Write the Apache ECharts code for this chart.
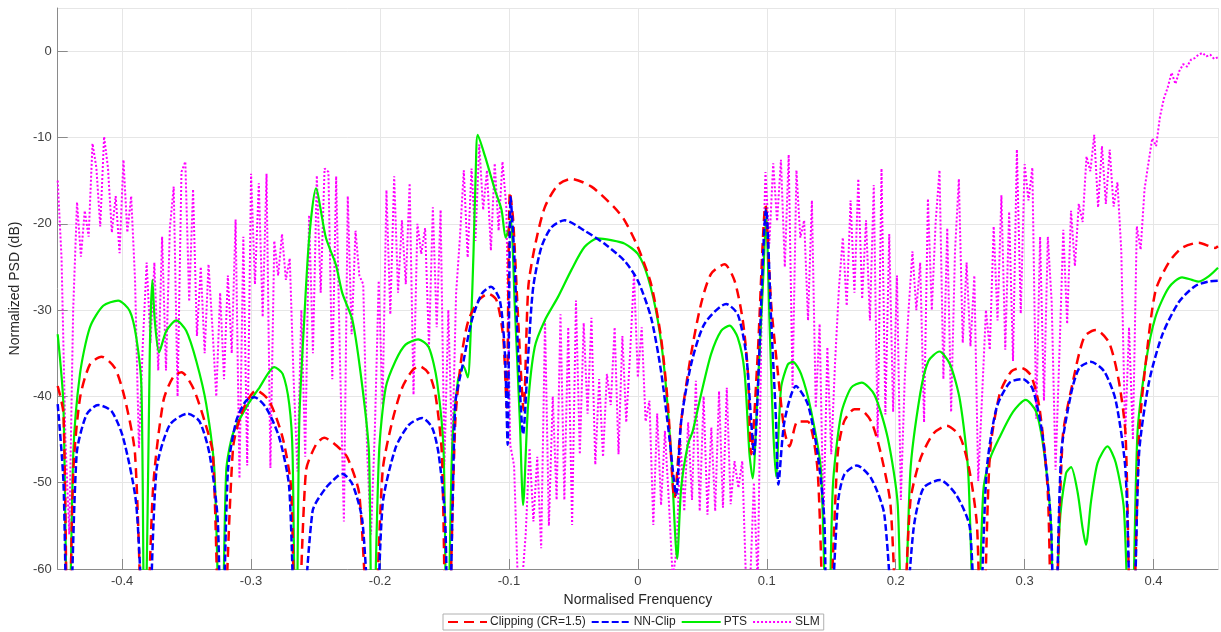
<!DOCTYPE html>
<html>
<head>
<meta charset="utf-8">
<script src="https://cdn.jsdelivr.net/npm/echarts@6/dist/echarts.min.js"></script>
<style>html,body{margin:0;padding:0;background:#fff;}#chart{width:1221px;height:632px;}</style>
</head>
<body>
<div id="chart"></div>
<script>
// ---- Data ----
const xTicks = [-0.4, -0.3, -0.2, -0.1, 0, 0.1, 0.2, 0.3, 0.4];
const yTicks = [-60, -50, -40, -30, -20, -10, 0];

const clipFreq = [-0.45,-0.4455,-0.4418,-0.4379,-0.4327,-0.425,-0.416,-0.4057,-0.398,-0.39,-0.3825,-0.376,-0.368,-0.3606,-0.354,-0.345,-0.336,-0.3296,-0.3232,-0.314,-0.3067,-0.296,-0.286,-0.2755,-0.269,-0.265,-0.2575,-0.2497,-0.2433,-0.233,-0.2252,-0.216,-0.2064,-0.198,-0.1905,-0.1828,-0.175,-0.1694,-0.162,-0.157,-0.152,-0.148,-0.1416,-0.1365,-0.1314,-0.1236,-0.116,-0.1095,-0.1044,-0.1018,-0.0992,-0.0967,-0.0928,-0.0886,-0.085,-0.08,-0.0722,-0.062,-0.0517,-0.036,-0.0183,-0.0103,0,0.0103,0.018,0.0233,0.0284,0.0336,0.0413,0.049,0.0568,0.0672,0.075,0.0814,0.0853,0.0879,0.093,0.099,0.1034,0.1085,0.1137,0.1176,0.124,0.1318,0.1395,0.146,0.155,0.16,0.168,0.172,0.181,0.1886,0.196,0.2035,0.2113,0.219,0.2293,0.2396,0.25,0.2576,0.2632,0.2666,0.273,0.2807,0.2897,0.2974,0.305,0.3116,0.318,0.322,0.3296,0.3373,0.3463,0.3553,0.3656,0.3733,0.3784,0.383,0.3887,0.3938,0.4015,0.4118,0.422,0.435,0.4478,0.45];
const clipPsd = [-38.8,-42,-75,-48.7,-40.2,-36.3,-35.4,-36.7,-40.2,-46.7,-75,-50.6,-40.5,-37.8,-37.2,-39,-42.9,-46.7,-75,-46,-41.7,-39.3,-40.5,-44.8,-50.6,-75,-48.7,-45.6,-44.8,-45.8,-47.1,-51.4,-75,-48.7,-42.9,-39,-37,-36.5,-37.4,-39.8,-46.7,-75,-42.9,-35.1,-31.2,-28.9,-28.1,-28.9,-33.2,-41.3,-16.3,-19.6,-31.2,-41.6,-27.4,-22.7,-18.1,-15.5,-14.8,-15.7,-18.1,-19.6,-22.7,-27,-33.2,-40.9,-51.8,-42.9,-35.1,-29.3,-25.8,-24.7,-26.6,-31.2,-37.1,-46.7,-35.1,-17.9,-29.3,-37.1,-44,-45.8,-42.9,-42.9,-48.7,-75,-46.7,-42.9,-41.5,-41.5,-42.9,-46.7,-52.6,-75,-52.3,-47.3,-44.3,-43.4,-44.7,-48.9,-55.3,-75,-46.8,-39.7,-37.1,-36.7,-37.6,-41.4,-51.1,-75,-44.7,-38.4,-33.1,-32.3,-33.8,-38.4,-44.7,-75,-44.7,-36.3,-27.8,-24.5,-22.8,-22.2,-22.8,-22.6];

const nnFreq = [-0.45,-0.4455,-0.4418,-0.4353,-0.4276,-0.4186,-0.4083,-0.3992,-0.389,-0.381,-0.3735,-0.3631,-0.349,-0.34,-0.3322,-0.3258,-0.323,-0.318,-0.3116,-0.3039,-0.2974,-0.2884,-0.2781,-0.2704,-0.264,-0.2523,-0.242,-0.2317,-0.229,-0.2213,-0.2136,-0.2046,-0.198,-0.188,-0.1776,-0.1674,-0.1596,-0.1545,-0.1494,-0.147,-0.1416,-0.1352,-0.1288,-0.121,-0.1139,-0.107,-0.1031,-0.101,-0.0987,-0.0959,-0.0928,-0.089,-0.085,-0.0812,-0.0748,-0.067,-0.0568,-0.0414,-0.026,-0.0103,0,0.0103,0.018,0.0245,0.0297,0.0336,0.0413,0.0517,0.0685,0.0775,0.084,0.0879,0.09,0.0995,0.1034,0.1072,0.109,0.1137,0.1227,0.1318,0.1395,0.1447,0.147,0.155,0.16,0.1698,0.181,0.1912,0.2025,0.2139,0.2216,0.2344,0.2473,0.2576,0.2632,0.2704,0.2781,0.2884,0.2987,0.3064,0.3141,0.3206,0.323,0.3283,0.336,0.3424,0.3514,0.3617,0.3707,0.3784,0.3835,0.3887,0.3964,0.4067,0.4195,0.4324,0.4427,0.45];
const nnPsd = [-40.9,-50,-75,-46.7,-42.1,-41,-41.7,-44.8,-52.6,-75,-48.7,-43.3,-42,-42.9,-46.7,-54.5,-75,-48.7,-42.9,-40.5,-40.1,-41.3,-44.8,-50.6,-75,-53.3,-50.6,-49.1,-49,-50.2,-54.5,-75,-52.6,-46,-43.3,-42.5,-43.6,-46.7,-54.5,-75,-40.9,-35.9,-31.2,-28.1,-27.3,-28.9,-35.1,-45.6,-16.9,-23.5,-35.1,-44.4,-35.1,-27.4,-22.7,-20.4,-19.6,-20.8,-22.3,-24.3,-26.6,-30.9,-37.1,-44.8,-51.4,-42.9,-36.3,-31.6,-29.3,-30.5,-35.1,-42.9,-46.7,-18.3,-31.2,-42.9,-50.2,-42.9,-38.8,-40.9,-46.7,-54.5,-75,-52.6,-49.1,-48,-49.5,-53.7,-75,-55.3,-50.6,-49.7,-51.5,-55.3,-75,-48.9,-41.4,-38.4,-38,-39.2,-44.7,-55.3,-75,-46.8,-39.7,-36.7,-36,-37.1,-40.5,-48.9,-75,-46.8,-38.4,-32.9,-29.1,-27.2,-26.7,-26.6];

const ptsFreq = [-0.45,-0.4456,-0.4418,-0.4379,-0.4327,-0.425,-0.4147,-0.4031,-0.3941,-0.389,-0.385,-0.3825,-0.3786,-0.3766,-0.3747,-0.3714,-0.3657,-0.358,-0.3503,-0.3425,-0.3348,-0.3284,-0.3232,-0.3193,-0.3142,-0.3039,-0.2936,-0.282,-0.2755,-0.2704,-0.2678,-0.2652,-0.2626,-0.2588,-0.2549,-0.2497,-0.242,-0.2343,-0.2291,-0.2213,-0.2136,-0.2085,-0.206,-0.2008,-0.1956,-0.188,-0.1802,-0.1704,-0.1622,-0.1558,-0.1506,-0.148,-0.1442,-0.1396,-0.1352,-0.1319,-0.1293,-0.1275,-0.1257,-0.1242,-0.1185,-0.1108,-0.1057,-0.1026,-0.1005,-0.0985,-0.0954,-0.0915,-0.089,-0.0851,-0.08,-0.0722,-0.062,-0.0517,-0.0414,-0.0311,-0.0208,-0.0103,0,0.0078,0.0155,0.0207,0.0258,0.0305,0.0336,0.0388,0.0426,0.049,0.0568,0.0646,0.0711,0.0775,0.0827,0.0866,0.0891,0.093,0.0969,0.0995,0.1021,0.1047,0.1072,0.1111,0.1163,0.1202,0.1266,0.1344,0.1421,0.1473,0.1512,0.1576,0.1654,0.1736,0.1835,0.1938,0.2016,0.2055,0.2113,0.219,0.2254,0.2339,0.2422,0.2499,0.2563,0.2622,0.2679,0.273,0.2807,0.291,0.3008,0.309,0.3154,0.3206,0.323,0.327,0.3321,0.336,0.3411,0.345,0.3476,0.3514,0.3566,0.3643,0.3707,0.3771,0.3823,0.3874,0.3938,0.4015,0.4118,0.4221,0.4298,0.435,0.4427,0.45];
const ptsPsd = [-32.8,-40.9,-75,-46.7,-37.4,-32,-29.5,-28.9,-30.1,-33.2,-39,-75,-35.1,-26.5,-31.2,-34.9,-32.4,-31.2,-32.4,-35.9,-40.9,-48.7,-75,-48.7,-44.4,-41.3,-39,-36.6,-37.4,-40.9,-46.7,-75,-42.9,-31.2,-21.6,-15.9,-21.6,-24.7,-28.1,-31.2,-39,-46.7,-75,-46.7,-39,-35.9,-34,-33.4,-34.3,-38.2,-46.7,-75,-46.7,-38.2,-36.5,-37.8,-31.2,-23.5,-13.8,-9.7,-12.2,-16.1,-18.4,-21.6,-20.8,-19.6,-29.7,-42.9,-52.6,-40.9,-34.3,-31.2,-28.5,-25.4,-22.7,-21.7,-21.9,-22.3,-23.5,-26.2,-31.2,-37.1,-46.7,-58.8,-50.6,-45.6,-44,-39.8,-35.1,-32.4,-31.8,-33.2,-37.1,-46.7,-49.5,-39,-27.4,-19.2,-31.2,-42.9,-49.3,-39,-36.3,-36,-37.4,-41.7,-48.7,-75,-50.6,-42.1,-39,-38.4,-39.8,-44.8,-52.6,-75,-48.9,-39.7,-35.9,-34.8,-36.3,-40.5,-48.9,-75,-51.1,-47.3,-44.7,-41.8,-40.4,-41.8,-46.8,-55.3,-75,-55.3,-48.9,-48.2,-51.1,-55.3,-57.2,-52.3,-47.7,-45.8,-47.7,-53.2,-75,-44.7,-36.3,-30.8,-27.4,-26.2,-26.5,-26.7,-26.1,-25.1];

// SLM sampled every 0.003 from -0.45 to 0.45 (301 samples)
const slmStart = -0.45;
const slmStep = 0.003;
const slmPsd = [
-15,-24,-45,-56,-30,-17.5,-23.8,-18.5,-21.5,-10.7,
-13.5,-20.3,-9.9,-13.5,-21,-16.8,-23.4,-12.6,-21,-16.8,
-26.5,-46,-34,-24.5,-33.8,-24.5,-37,-21.5,-37,-20.5,
-15.7,-40,-14,-12.8,-29,-16,-33,-25,-35,-24.7,
-32,-40,-28,-38,-26,-35,-19.5,-49.5,-21.5,-48,
-14.2,-27,-15.3,-30.8,-14.2,-48.3,-22,-26,-21.2,-26.5,
-24,-38,-48.7,-30,-47,-19,-35,-14.4,-28,-13.6,
-14,-38,-14.5,-36,-54.5,-16.8,-32.8,-20.8,-26,-27,
-46.4,-56,-44,-26.6,-41,-16.1,-30.5,-14.5,-28,-19.6,
-27,-15.3,-39.8,-20,-23.5,-20.5,-34.3,-18.1,-32,-18.4,
-47.9,-30,-46.7,-28.1,-21.6,-13.8,-23.9,-13.6,-22,-10.8,
-18.4,-13.8,-23.1,-13,-20.8,-12.8,-18.1,-45.6,-48,-62,
-62,-56,-46,-54.5,-47,-57.6,-31.2,-55,-40,-52,
-30.5,-52,-32,-54.9,-28.9,-46.7,-31.5,-42,-30.9,-47.9,
-38,-47,-37.4,-41,-32,-46.7,-33,-43,-35,-25.8,
-37.8,-32,-42.9,-40.5,-54.9,-42,-52.6,-44,-52,-61,
-58,-45,-53.3,-43,-52,-38.2,-53.3,-40,-53.7,-43.6,
-53.3,-39.4,-52.9,-39,-52.5,-47.5,-50.6,-47.5,-62,-62,
-50,-62,-30,-14,-22.3,-13,-19.7,-12.6,-25,-12,
-39,-13.8,-21.6,-19.6,-31.2,-17.3,-41.3,-31.6,-54.5,-34.3,
-46.7,-36,-27.4,-21.6,-29.5,-17.3,-28,-14.8,-28.7,-19.6,
-31.2,-15.5,-44.8,-13.6,-42.1,-21.2,-41.8,-26,-52,-38,
-30,-23.2,-30,-24.5,-43,-17.1,-30,-19.8,-13.8,-38,
-20.5,-41.8,-23.2,-14.8,-33.8,-24.5,-34.2,-26,-49.8,-40,
-30,-34.6,-20.3,-31.2,-16.7,-34.6,-18.6,-35.9,-11.4,-30.4,
-13.1,-17.3,-13.5,-42.6,-21.5,-40.5,-21.5,-29.1,-48.5,-35,
-20.7,-31.6,-18.5,-24.9,-17.7,-19.8,-12.2,-13.9,-9.7,-18.1,
-11,-17.7,-11.4,-18,-15.2,-23.2,-44.7,-32,-45,-20.3,
-23,-16,-13,-10.1,-11,-7.6,-5.5,-4.2,-2.5,-3.8,
-2.3,-1.5,-1.8,-1,-0.8,-0.4,-0.2,-0.6,-0.4,-0.9,-0.7
];

// ---- Build series data ----
const pairs = (xs, ys) => xs.map((x, i) => [x, ys[i]]);
const slmData = slmPsd.map((v, i) => [+(slmStart + slmStep * i).toFixed(4), v]);

const axisGray = '#8a8a8a';
const textGray = '#404040';
const fontFam = '"Liberation Sans", Arial, Helvetica, sans-serif';

const chart = echarts.init(document.getElementById('chart'), null, {renderer: 'canvas'});
chart.setOption({
  animation: false,
  backgroundColor: '#ffffff',
  grid: {left: 54, right: 3, top: 8, bottom: 63},
  xAxis: {
    type: 'value', min: -0.45, max: 0.45, splitNumber: 9,
    name: 'Normalised Frenquency', nameLocation: 'middle', nameGap: 20,
    nameTextStyle: {color: '#262626', fontSize: 14, fontFamily: fontFam},
    axisLine: {show: true, onZero: false, lineStyle: {color: axisGray, width: 1}},
    axisTick: {show: true, inside: true, length: 10, lineStyle: {color: axisGray}},
    axisLabel: {color: textGray, fontSize: 13, fontFamily: fontFam, margin: 6,
      showMinLabel: false, showMaxLabel: false,
      formatter: v => { const r = Math.round(v * 10) / 10; return xTicks.includes(r) ? String(r) : ''; }},
    splitLine: {show: true, lineStyle: {color: '#e6e6e6', width: 1}}
  },
  yAxis: {
    type: 'value', min: -60, max: 5, interval: 10,
    name: 'Normalized PSD (dB)', nameLocation: 'middle', nameGap: 27,
    nameTextStyle: {color: '#262626', fontSize: 14, fontFamily: fontFam},
    axisLine: {show: true, onZero: false, lineStyle: {color: axisGray, width: 1}},
    axisTick: {show: true, inside: true, length: 10, lineStyle: {color: axisGray}},
    axisLabel: {color: textGray, fontSize: 13, fontFamily: fontFam, margin: 6,
      showMaxLabel: false,
      formatter: v => yTicks.includes(v) ? String(v) : ''},
    splitLine: {show: true, lineStyle: {color: '#e6e6e6', width: 1}}
  },
  legend: {
    left: 443, bottom: 2, itemWidth: 39, itemHeight: 10, itemGap: 5,
    padding: [2, 4], borderColor: '#b0b0b0', borderWidth: 1, borderRadius: 0,
    backgroundColor: '#ffffff',
    itemStyle: {opacity: 0},
    textStyle: {color: '#262626', fontSize: 12, fontFamily: fontFam, padding: [0, 0, 0, -2]},
    data: ['Clipping (CR=1.5)', 'NN-Clip', 'PTS', 'SLM']
  },
  series: [
    {name: 'SLM', type: 'line', data: slmData, showSymbol: false, symbol: 'none', z: 1,
      lineStyle: {color: '#ff00ff', width: 2, type: [2, 2]}, itemStyle: {color: '#ff00ff'}},
    {name: 'Clipping (CR=1.5)', type: 'line', data: pairs(clipFreq, clipPsd), smooth: 0.25, showSymbol: false, symbol: 'none', z: 3,
      lineStyle: {color: '#ff0000', width: 2.5, type: [10, 6]}, itemStyle: {color: '#ff0000'}},
    {name: 'NN-Clip', type: 'line', data: pairs(nnFreq, nnPsd), smooth: 0.25, showSymbol: false, symbol: 'none', z: 4,
      lineStyle: {color: '#0000ff', width: 2.5, type: [7, 3]}, itemStyle: {color: '#0000ff'}},
    {name: 'PTS', type: 'line', data: pairs(ptsFreq, ptsPsd), smooth: 0.25, showSymbol: false, symbol: 'none', z: 2,
      lineStyle: {color: '#00ee00', width: 2.2, type: 'solid'}, itemStyle: {color: '#00ee00'}}
  ]
});
</script>
</body>
</html>
